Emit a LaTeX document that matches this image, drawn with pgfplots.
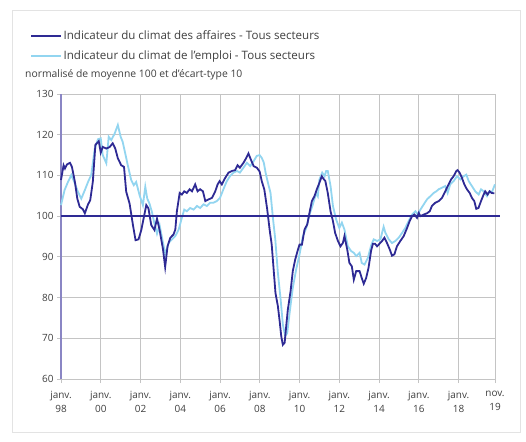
\documentclass[border=0pt]{standalone}
\usepackage{fontspec}
\setmainfont{Open Sans}
\usepackage{pgfplots}
\pgfplotsset{compat=1.18}
\definecolor{affaires}{HTML}{2E2A94}
\definecolor{emploi}{HTML}{92D5F0}
\definecolor{gridc}{HTML}{C4C4C4}
\definecolor{txt}{HTML}{404040}
\definecolor{yax}{HTML}{8A86C4}
\begin{document}
\begin{tikzpicture}
\useasboundingbox (0,0) rectangle (526bp,-442bp);
\fill[white] (0,0) rectangle (526bp,-442bp);
\draw[gray!22, line width=1bp] (12bp,-10bp) rectangle (520bp,-432bp);
\node[anchor=west, text=txt, font=\fontsize{10.4}{12}\selectfont, inner sep=0pt] at (25bp,-75bp) {normalisé de moyenne 100 et d\symbol{"27}écart-type 10};
\begin{axis}[
  at={(61bp,-379bp)}, anchor=south west,
  scale only axis, width=434bp, height=285bp,
  xmin=1998, xmax=2019.833, ymin=60, ymax=130,
  axis lines=left, axis line style={-},
  x axis line style={gridc, line width=1bp},
  y axis line style={yax, line width=1.4bp},
  xtick={1998,2000,2002,2004,2006,2008,2010,2012,2014,2016,2018,2019.833},
  xticklabels={{janv.\\98},{janv.\\00},{janv.\\02},{janv.\\04},{janv.\\06},{janv.\\08},{janv.\\10},{janv.\\12},{janv.\\14},{janv.\\16},{janv.\\18},{nov.\\19}},
  ytick={60,70,80,90,100,110,120,130},
  grid=major, major grid style={gridc, line width=0.9bp},
  tick align=outside, major tick length=4bp,
  tick style={gridc, line width=0.9bp},
  x tick label style={align=center, font=\fontsize{10}{13.5}\selectfont, text=txt, yshift=-5bp},
  y tick label style={font=\fontsize{10}{12}\selectfont, text=txt},
  /pgf/number format/assume math mode=true,
  clip=false,
  reverse legend,
  legend style={at={(axis description cs:-0.078,1.236)}, anchor=north west, draw=none, fill=none,
    font=\fontsize{11.6}{13}\selectfont, text=txt, row sep=7bp,
    nodes={inner sep=1.5bp, xshift=1.5bp}},
  legend cell align=left,
  legend image code/.code={\draw[#1] (0bp,0bp) -- (30bp,0bp);},
]
\addplot[emploi, line width=1.8bp] coordinates {
(1998.0,102.7) (1998.18,106.4) (1998.35,108.4) (1998.52,110.1) (1998.7,108.0) (1998.85,106.0)
(1999.02,104.3) (1999.2,106.4) (1999.36,108.4) (1999.52,110.1) (1999.7,116.6) (1999.86,118.9)
(2000.0,119.1) (2000.1,115.0) (2000.28,113.0) (2000.4,119.5) (2000.53,118.7) (2000.7,120.3)
(2000.86,122.4) (2001.0,119.5) (2001.1,118.3) (2001.25,115.0) (2001.36,112.5) (2001.53,108.9)
(2001.66,107.6) (2001.78,108.4) (2001.95,105.2) (2002.12,102.7) (2002.24,107.2) (2002.34,104.3)
(2002.45,103.1) (2002.57,101.1) (2002.7,98.2) (2002.83,95.7) (2002.96,97.8) (2003.13,93.5)
(2003.25,90.6) (2003.41,93.4) (2003.58,94.3) (2003.75,95.1) (2003.92,96.7) (2004.08,99.6)
(2004.2,101.6) (2004.33,101.2) (2004.5,102.0) (2004.67,101.6) (2004.84,102.5) (2005.0,102.0)
(2005.17,102.9) (2005.34,102.5) (2005.5,103.3) (2005.67,103.3) (2005.84,103.7) (2006.0,104.5)
(2006.17,106.6) (2006.34,108.6) (2006.5,109.8) (2006.68,110.7) (2006.85,111.1) (2007.0,110.7)
(2007.18,111.9) (2007.35,113.1) (2007.52,112.3) (2007.69,113.5) (2007.85,114.8) (2007.99,115.0)
(2008.1,114.3) (2008.2,113.2) (2008.3,110.5) (2008.41,108.2) (2008.54,105.7) (2008.66,99.6)
(2008.78,94.3) (2008.91,86.1) (2009.05,79.5) (2009.16,73.4) (2009.28,70.5) (2009.38,71.3)
(2009.5,76.2) (2009.66,82.4) (2009.83,86.9) (2010.0,90.6) (2010.17,95.1) (2010.34,97.1)
(2010.5,100.4) (2010.67,102.9) (2010.84,105.7) (2010.92,104.9) (2011.0,109.0) (2011.14,110.7)
(2011.26,109.8) (2011.34,111.1) (2011.42,111.1) (2011.56,107.4) (2011.68,102.5) (2011.84,99.2)
(2012.0,97.1) (2012.13,98.4) (2012.26,96.7) (2012.43,92.6) (2012.6,91.4) (2012.73,91.0)
(2012.85,90.2) (2013.02,91.0) (2013.13,88.5) (2013.27,88.1) (2013.44,89.8) (2013.6,92.8)
(2013.73,94.3) (2013.9,93.9) (2014.07,94.3) (2014.23,97.4) (2014.32,95.9) (2014.49,94.3)
(2014.65,93.4) (2014.82,93.9) (2014.99,94.7) (2015.16,95.9) (2015.32,97.1) (2015.49,98.8)
(2015.66,100.4) (2015.83,101.2) (2015.94,100.4) (2016.08,101.6) (2016.25,102.9) (2016.41,104.1)
(2016.58,104.9) (2016.75,105.7) (2016.88,106.1) (2017.0,106.6) (2017.17,107.0) (2017.33,107.4)
(2017.45,105.7) (2017.58,107.8) (2017.75,108.6) (2017.92,109.8) (2018.09,109.0) (2018.26,109.8)
(2018.39,110.2) (2018.51,108.6) (2018.67,107.4) (2018.84,106.1) (2019.01,105.3) (2019.13,106.6)
(2019.26,106.1) (2019.43,104.9) (2019.56,106.1) (2019.68,105.9) (2019.83,107.8)
};
\addlegendentry{Indicateur du climat de l\symbol{"27}emploi - Tous secteurs}
\addplot[affaires, line width=1.8bp] coordinates {
(1998.0,108.9) (1998.13,112.5) (1998.2,111.7) (1998.3,112.7) (1998.45,113.1) (1998.55,112.1)
(1998.7,108.4) (1998.82,104.3) (1998.94,102.3) (1999.1,101.7) (1999.2,100.7) (1999.36,102.9)
(1999.47,103.9) (1999.6,108.4) (1999.73,117.5) (1999.9,118.4) (2000.0,115.6) (2000.1,117.0)
(2000.28,116.6) (2000.45,117.0) (2000.6,117.9) (2000.73,116.6) (2000.86,114.2) (2001.03,112.5)
(2001.17,112.1) (2001.28,106.0) (2001.45,103.1) (2001.62,97.8) (2001.75,94.1) (2001.9,94.3)
(2002.04,96.6) (2002.17,99.8) (2002.29,102.7) (2002.4,101.9) (2002.54,97.8) (2002.7,96.6)
(2002.83,99.4) (2002.96,96.6) (2003.13,91.9) (2003.24,87.5) (2003.36,92.6) (2003.5,94.7)
(2003.66,95.5) (2003.75,96.7) (2003.83,101.2) (2003.97,105.7) (2004.08,105.3) (2004.2,106.1)
(2004.33,105.7) (2004.47,106.6) (2004.59,106.1) (2004.75,107.8) (2004.87,106.1) (2005.0,106.6)
(2005.14,106.1) (2005.26,103.7) (2005.42,104.1) (2005.6,104.5) (2005.76,106.1) (2005.88,107.8)
(2005.98,108.6) (2006.09,107.8) (2006.26,109.4) (2006.43,110.7) (2006.6,111.1) (2006.76,111.3)
(2006.88,112.5) (2007.0,111.9) (2007.18,113.1) (2007.32,114.3) (2007.43,115.4) (2007.55,113.9)
(2007.69,112.3) (2007.85,111.9) (2007.99,111.0) (2008.1,108.6) (2008.23,106.5) (2008.37,101.8)
(2008.5,96.5) (2008.6,93.0) (2008.71,86.1) (2008.79,81.1) (2008.91,77.9) (2009.0,74.2)
(2009.08,70.5) (2009.16,68.4) (2009.25,68.9) (2009.33,73.0) (2009.41,77.0) (2009.55,81.6)
(2009.66,86.5) (2009.78,89.3) (2009.92,91.8) (2010.0,93.0) (2010.12,93.0) (2010.25,96.7)
(2010.39,98.0) (2010.5,100.8) (2010.62,103.7) (2010.75,104.9) (2010.87,106.6) (2011.0,108.2)
(2011.12,109.8) (2011.2,109.2) (2011.3,108.6) (2011.42,105.7) (2011.56,101.2) (2011.68,98.8)
(2011.79,95.9) (2011.93,93.9) (2012.06,92.6) (2012.18,93.4) (2012.26,95.1) (2012.4,91.8)
(2012.51,88.5) (2012.63,87.7) (2012.73,84.4) (2012.85,86.5) (2013.02,86.5) (2013.13,84.8)
(2013.23,83.4) (2013.35,84.8) (2013.47,87.3) (2013.6,91.5) (2013.69,93.2) (2013.8,93.2)
(2013.9,92.6) (2013.98,93.0) (2014.15,93.9) (2014.27,94.7) (2014.4,93.4) (2014.54,91.8)
(2014.65,90.3) (2014.77,90.6) (2014.9,92.6) (2015.07,93.9) (2015.24,95.1) (2015.41,97.1)
(2015.54,98.8) (2015.66,100.0) (2015.78,100.4) (2015.91,99.6) (2016.0,100.8) (2016.08,100.0)
(2016.25,100.4) (2016.41,100.7) (2016.55,101.2) (2016.66,102.5) (2016.83,103.3) (2017.0,103.7)
(2017.17,104.5) (2017.33,106.1) (2017.5,107.8) (2017.62,109.0) (2017.75,109.8) (2017.89,111.1)
(2017.95,111.3) (2018.05,110.7) (2018.17,109.4) (2018.29,107.8) (2018.42,106.6) (2018.56,105.7)
(2018.67,104.5) (2018.79,103.7) (2018.89,101.8) (2019.0,102.0) (2019.13,103.7) (2019.26,105.3)
(2019.34,106.1) (2019.46,105.3) (2019.56,106.1) (2019.66,105.7) (2019.8,105.6)
};
\addlegendentry{Indicateur du climat des affaires - Tous secteurs}
\addplot[affaires, line width=1.3bp, forget plot] coordinates {(1998,100) (2020.06,100)};
\end{axis}
\end{tikzpicture}
\end{document}
